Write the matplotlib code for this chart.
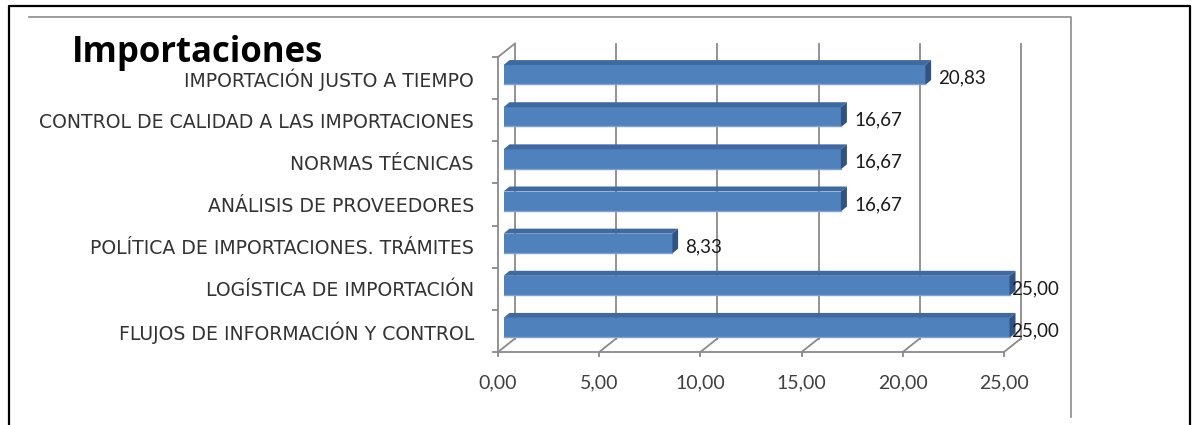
import numpy as np
import matplotlib
matplotlib.use("Agg")
import matplotlib.pyplot as plt
from matplotlib.patches import Polygon
from matplotlib.lines import Line2D
import matplotlib.transforms as mtransforms

plt.rcParams['font.family'] = ['Lato', 'DejaVu Sans']

# categories listed bottom to top, as the chart stacks them
categorias = [
    "FLUJOS DE INFORMACIÓN Y CONTROL",
    "LOGÍSTICA DE IMPORTACIÓN",
    "POLÍTICA DE IMPORTACIONES. TRÁMITES",
    "ANÁLISIS DE PROVEEDORES",
    "NORMAS TÉCNICAS",
    "CONTROL DE CALIDAD A LAS IMPORTACIONES",
    "IMPORTACIÓN JUSTO A TIEMPO",
]
valores = [25.00, 25.00, 8.33, 16.67, 16.67, 16.67, 20.83]
xticks = [0, 5, 10, 15, 20, 25]
titulo = "Importaciones"

W, H, DPI = 1192, 425, 100
fig = plt.figure(figsize=(W / DPI, H / DPI), dpi=DPI)

# front plane of the pseudo-3d box, in pixels
x0, x1, ytop, ybot = 498, 1004, 57, 352
ax = fig.add_axes([x0 / W, (H - ybot) / H, (x1 - x0) / W, (ybot - ytop) / H])
n = len(categorias)
ax.set_xlim(0, 25)
ax.set_ylim(-0.5, n - 0.5)

ppx = (x1 - x0) / 25.0          # pixels per x unit
ppy = (ybot - ytop) / n          # pixels per category
px2pt = 72.0 / DPI

gris = '#8a8a8a'
lw = 1.3
# depth of the back wall
DX, DY = 17 / ppx, 13.5 / ppy

for s in ['top', 'right']:
    ax.spines[s].set_visible(False)
for s in ['left', 'bottom']:
    ax.spines[s].set_color(gris)
    ax.spines[s].set_linewidth(lw)

ax.set_xticks(xticks)
ax.set_xticklabels([f"{t:.2f}".replace('.', ',') for t in xticks], fontsize=14, color='#404040')
ax.tick_params(axis='x', length=5 * px2pt, width=lw, color=gris, pad=17 * px2pt)

ax.set_yticks(range(n))
ax.set_yticklabels(categorias, fontsize=13.6, color='#333333', family=['DejaVu Sans'])
ax.set_yticks(np.arange(-0.5, n, 1.0), minor=True)
ax.tick_params(axis='y', which='major', length=0, pad=24 * px2pt)
ax.tick_params(axis='y', which='minor', length=6 * px2pt, width=lw, color=gris)

# back wall gridlines and floor diagonals
for t in xticks:
    ax.add_line(Line2D([t + DX, t + DX], [-0.5 + DY, n - 0.5 + DY], color=gris, lw=lw,
                       clip_on=False, zorder=1))
    ax.add_line(Line2D([t, t + DX], [-0.5, -0.5 + DY], color=gris, lw=lw, clip_on=False, zorder=1))
ax.add_line(Line2D([0, DX], [n - 0.5, n - 0.5 + DY], color=gris, lw=lw, clip_on=False, zorder=1))

# bars: front face, top face and end face
off = mtransforms.ScaledTranslation(5.5 / DPI, 3 / DPI, fig.dpi_scale_trans)
tr = ax.transData + off
h = 20 / ppy
tx, ty = 6 / ppx, 5 / ppy
y = np.arange(n)
barras = ax.barh(y, valores, height=h, color='#4f81bd', edgecolor='none', transform=tr, zorder=3)
for b in barras:
    b.set_clip_on(False)
for yi, v in zip(y, valores):
    top = yi + h / 2
    ax.add_patch(Polygon([(0, top), (v, top), (v + tx, top + ty), (tx, top + ty)],
                         closed=True, facecolor='#3f6aa0', edgecolor='none',
                         transform=tr, zorder=3, clip_on=False))
    ax.add_patch(Polygon([(v, yi - h / 2), (v, top), (v + tx, top + ty), (v + tx, yi - h / 2 + ty)],
                         closed=True, facecolor='#2f5384', edgecolor='none',
                         transform=tr, zorder=3, clip_on=False))
    ax.add_line(Line2D([0, v], [yi - h / 2 + 0.02, yi - h / 2 + 0.02], color='#7fa3d0', lw=1,
                       transform=tr, zorder=3, clip_on=False))
    lx = min(v + 19 / ppx, 25 + 7 / ppx)
    ax.text(lx, yi, f"{v:.2f}".replace('.', ','), fontsize=13.5, color='#1a1a1a',
            va='center', ha='left', zorder=5, clip_on=False)

fig.text(72 / W, 1 - 62 / H, titulo, fontsize=25, fontweight='bold', color='black',
         va='baseline', ha='left', family=['Open Sans', 'DejaVu Sans'])

# surrounding frames
fig.add_artist(Line2D([29 / W, 1071 / W, 1071 / W], [1 - 17 / H, 1 - 17 / H, 1 - 417 / H],
                      color='#8c8c8c', lw=1.2, transform=fig.transFigure))
fig.add_artist(Line2D([9 / W, 9 / W, 1190 / W, 1190 / W], [0, 1 - 6 / H, 1 - 6 / H, 0],
                      color='black', lw=1.6, transform=fig.transFigure))

fig.savefig("out.png", dpi=DPI)
